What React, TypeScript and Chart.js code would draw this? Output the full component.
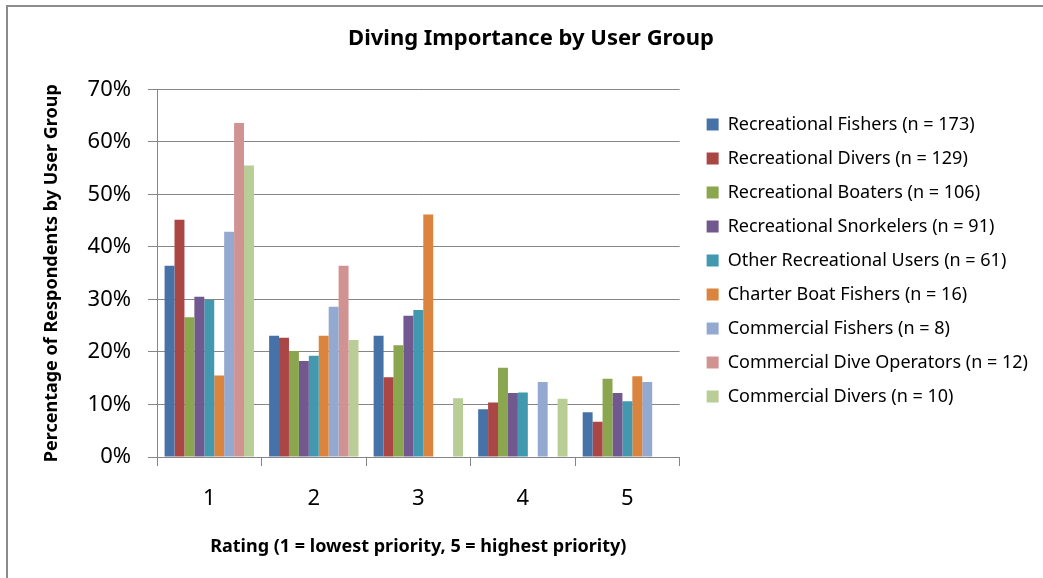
import React, { useEffect, useRef } from "react";
import { Chart, registerables } from "chart.js";

Chart.register(...registerables);

const ratings = ["1", "2", "3", "4", "5"];
const seriesLabels = [
  "Recreational Fishers (n = 173)",
  "Recreational Divers (n = 129)",
  "Recreational Boaters (n = 106)",
  "Recreational Snorkelers (n = 91)",
  "Other Recreational Users (n = 61)",
  "Charter Boat Fishers (n = 16)",
  "Commercial Fishers (n = 8)",
  "Commercial Dive Operators (n = 12)",
  "Commercial Divers (n = 10)",
];
const recreationalFishers = [36.4, 23.1, 23.1, 9.1, 8.5];
const recreationalDivers = [45.2, 22.7, 15.2, 10.4, 6.7];
const recreationalBoaters = [26.6, 20.2, 21.3, 17.0, 14.9];
const recreationalSnorkelers = [30.5, 18.3, 26.9, 12.2, 12.2];
const otherRecreationalUsers = [29.9, 19.3, 28.0, 12.3, 10.6];
const charterBoatFishers = [15.5, 23.1, 46.2, 0, 15.4];
const commercialFishers = [42.9, 28.6, 0, 14.3, 14.3];
const commercialDiveOperators = [63.6, 36.4, 0, 0, 0];
const commercialDivers = [55.5, 22.3, 11.2, 11.1, 0];
const yTicks = [0, 10, 20, 30, 40, 50, 60, 70];

const seriesValues = [
  recreationalFishers,
  recreationalDivers,
  recreationalBoaters,
  recreationalSnorkelers,
  otherRecreationalUsers,
  charterBoatFishers,
  commercialFishers,
  commercialDiveOperators,
  commercialDivers,
];
const colors = [
  "#4672A8",
  "#AA4644",
  "#8AA64F",
  "#71588F",
  "#4198AF",
  "#DB843D",
  "#93A9CF",
  "#D19392",
  "#B9CD96",
];

const W = 1062;
const H = 578;
const GRID = "#868686";
const FONT = "'Noto Sans', 'DejaVu Sans', sans-serif";

export default function App() {
  const ref = useRef<HTMLCanvasElement | null>(null);
  useEffect(() => {
    if (!ref.current) return;
    const padL = 24;
    const chart = new Chart(ref.current, {
      type: "bar",
      data: {
        labels: ratings,
        datasets: seriesLabels.map((label, i) => ({
          label,
          data: seriesValues[i],
          backgroundColor: colors[i],
          borderWidth: 0,
          categoryPercentage: 0.855,
          barPercentage: 1,
        })),
      },
      options: {
        animation: false,
        responsive: false,
        layout: { padding: { left: padL, right: 24, top: 0, bottom: 0 } },
        plugins: {
          title: {
            display: true,
            text: "Diving Importance by User Group",
            color: "#000",
            font: { family: FONT, size: 22, weight: "bold", lineHeight: 1.2 },
            padding: { top: 26, bottom: 37 },
          },
          legend: {
            display: true,
            position: "right",
            align: "start",
            fullSize: false,
            maxWidth: 500,
            title: { display: true, text: "", padding: 0, font: { size: 8, lineHeight: 1.25 } },
            labels: {
              boxWidth: 12,
              boxHeight: 12,
              padding: 16,
              color: "#000",
              font: { family: FONT, size: 18 },
            },
          },
          tooltip: { enabled: false },
        },
        scales: {
          x: {
            type: "category",
            grid: {
              offset: true,
              drawOnChartArea: false,
              drawTicks: true,
              tickLength: 9,
              color: GRID,
            },
            border: { color: GRID, width: 1 },
            ticks: {
              color: "#000",
              padding: 20,
              font: { family: FONT, size: 22 },
            },
            title: {
              display: true,
              text: "Rating (1 = lowest priority, 5 = highest priority)",
              color: "#000",
              font: { family: FONT, size: 18, weight: "bold", lineHeight: 1.2 },
              padding: { top: 0, bottom: 20 },
            },
            afterFit: (s: any) => {
              s.height = H - 457;
            },
          },
          y: {
            type: "linear",
            min: 0,
            max: 70,
            grid: { color: GRID, tickLength: 9 },
            border: { color: GRID, width: 1 },
            afterBuildTicks: (s: any) => {
              s.ticks = yTicks.map((v) => ({ value: v }));
            },
            ticks: {
              color: "#000",
              padding: 17,
              font: { family: FONT, size: 22 },
              callback: (v: any) => v + "%",
            },
            title: {
              display: true,
              text: "Percentage of Respondents by User Group",
              color: "#000",
              font: { family: FONT, size: 18, weight: "bold", lineHeight: 1.2 },
              padding: { top: 17, bottom: 0 },
            },
            afterFit: (s: any) => {
              s.width = 157 - padL;
            },
          },
          spacer: {
            type: "linear",
            position: "right",
            display: true,
            grid: { display: false, drawTicks: false },
            border: { display: false },
            ticks: { display: false },
            afterFit: (s: any) => {
              s.width = 11;
            },
          },
        },
      },
    } as any);
    return () => chart.destroy();
  }, []);
  return (
    <div
      style={{
        position: "fixed",
        left: 0,
        top: 0,
        width: 1043,
        height: 578,
        overflow: "hidden",
        background: "#fff",
      }}
    >
      <canvas ref={ref} width={W} height={H} style={{ width: W, height: H, display: "block" }} />
      <div
        style={{
          position: "absolute",
          left: 6,
          top: 5,
          width: 1200,
          height: 800,
          border: "2px solid #8c8c8c",
          pointerEvents: "none",
        }}
      />
    </div>
  );
}
